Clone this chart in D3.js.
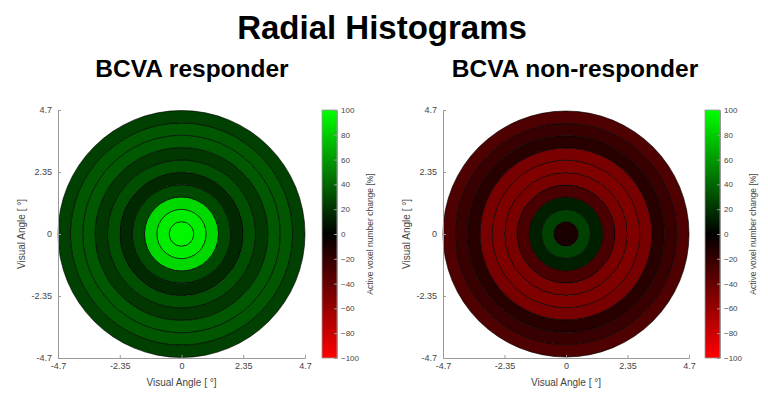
<!DOCTYPE html>
<html><head><meta charset="utf-8">
<script src="https://cdn.jsdelivr.net/npm/d3@7"></script>
<style>body{margin:0;background:#fff}svg{display:block;font-family:"Liberation Sans",Arial,sans-serif}</style>
</head><body><svg id="c" width="768" height="397"></svg>
<script>
// Data
const ringEdges = [0, 0.47, 0.94, 1.41, 1.88, 2.35, 2.82, 3.29, 3.76, 4.23, 4.7];
const responder = [97, 93, 85, 29, 16, 31, 22, 35, 34, 25];
const nonResponder = [-10, 25, 12, -29, -48, -50, -47, -16, -22, -31];
const axisTicks = [-4.7, -2.35, 0, 2.35, 4.7];
const axisTickLabels = ["-4.7", "-2.35", "0", "2.35", "4.7"];
const cbTicks = [100, 80, 60, 40, 20, 0, -20, -40, -60, -80, -100];
const titles = ["BCVA responder", "BCVA non-responder"];

const svg = d3.select("#c");
const color = d3.scaleLinear().domain([-100, 0, 100]).range(["#ff0000", "#000000", "#00ff00"]).clamp(true);

svg.append("text").attr("x", 382).attr("y", 39).attr("text-anchor", "middle")
  .attr("font-size", 33).attr("font-weight", "bold").text("Radial Histograms");

const defs = svg.append("defs");
const grad = defs.append("linearGradient").attr("id", "cbg").attr("x1", 0).attr("y1", 1).attr("x2", 0).attr("y2", 0);
d3.range(-100, 101, 10).forEach(v => grad.append("stop").attr("offset", ((v + 100) / 200)).attr("stop-color", color(v)));

const panels = [
  {x0: 58, x1: 305, cb: 322, vals: responder, title: titles[0], tx: 192},
  {x0: 443, x1: 689, cb: 705, vals: nonResponder, title: titles[1], tx: 575}
];
const yTop = 110, yBot = 358;
const axisCol = "#999", textCol = "#444";

panels.forEach(p => {
  const g = svg.append("g");
  const x = d3.scaleLinear().domain([-4.7, 4.7]).range([p.x0, p.x1]);
  const y = d3.scaleLinear().domain([-4.7, 4.7]).range([yBot, yTop]);
  g.append("text").attr("x", p.tx).attr("y", 77).attr("text-anchor", "middle")
    .attr("font-size", 24.5).attr("font-weight", "bold").text(p.title);

  const cx = x(0), cy = y(0);
  const rs = d3.scaleLinear().domain([0, 4.7]).range([0, (p.x1 - p.x0) / 2]);
  const arc = d3.arc();
  p.vals.forEach((v, i) => {
    g.append("path")
      .attr("transform", `translate(${cx},${cy})`)
      .attr("d", arc({innerRadius: rs(ringEdges[i]), outerRadius: rs(ringEdges[i + 1]), startAngle: 0, endAngle: 2 * Math.PI}))
      .attr("fill", color(v)).attr("stroke", "#000").attr("stroke-width", 0.6);
  });

  // axes
  const xa = g.append("g").attr("transform", `translate(0,${yBot})`)
    .call(d3.axisBottom(x).tickValues(axisTicks).tickFormat((d, i) => axisTickLabels[i]).tickSizeInner(-3).tickSizeOuter(0).tickPadding(5));
  const ya = g.append("g").attr("transform", `translate(${p.x0},0)`)
    .call(d3.axisLeft(y).tickValues(axisTicks).tickFormat((d, i) => axisTickLabels[i]).tickSizeInner(-3).tickSizeOuter(0).tickPadding(6));
  [xa, ya].forEach(a => {
    a.select(".domain").attr("stroke", axisCol);
    a.selectAll(".tick line").attr("stroke", axisCol);
    a.selectAll("text").attr("fill", textCol).attr("font-size", 9).attr("font-family", "Liberation Sans, Arial, sans-serif");
  });
  g.append("text").attr("x", (p.x0 + p.x1) / 2).attr("y", 386).attr("text-anchor", "middle")
    .attr("font-size", 10).attr("fill", textCol).text("Visual Angle [   \u00B0]");
  g.append("text").attr("transform", `translate(${p.x0 - 33},${(yTop + yBot) / 2}) rotate(-90)`)
    .attr("text-anchor", "middle").attr("font-size", 10).attr("fill", textCol).text("Visual Angle [   \u00B0]");

  // colorbar
  const cbw = 15;
  const cs = d3.scaleLinear().domain([-100, 100]).range([yBot, yTop]);
  g.append("rect").attr("x", p.cb).attr("y", yTop).attr("width", cbw).attr("height", yBot - yTop)
    .attr("fill", "url(#cbg)").attr("stroke", axisCol).attr("stroke-width", 0.8);
  const ca = g.append("g").attr("transform", `translate(${p.cb + cbw},0)`)
    .call(d3.axisRight(cs).tickValues(cbTicks).tickSizeInner(-3).tickSizeOuter(0).tickPadding(4));
  ca.select(".domain").attr("stroke", axisCol);
  ca.selectAll(".tick line").attr("stroke", axisCol);
  ca.selectAll("text").attr("fill", textCol).attr("font-size", 8).attr("font-family", "Liberation Sans, Arial, sans-serif");
  g.append("text").attr("transform", `translate(${p.cb + 51},${(yTop + yBot) / 2}) rotate(-90)`)
    .attr("text-anchor", "middle").attr("font-size", 8.5).attr("fill", textCol).text("Active voxel number change [%]");
});
</script></body></html>
